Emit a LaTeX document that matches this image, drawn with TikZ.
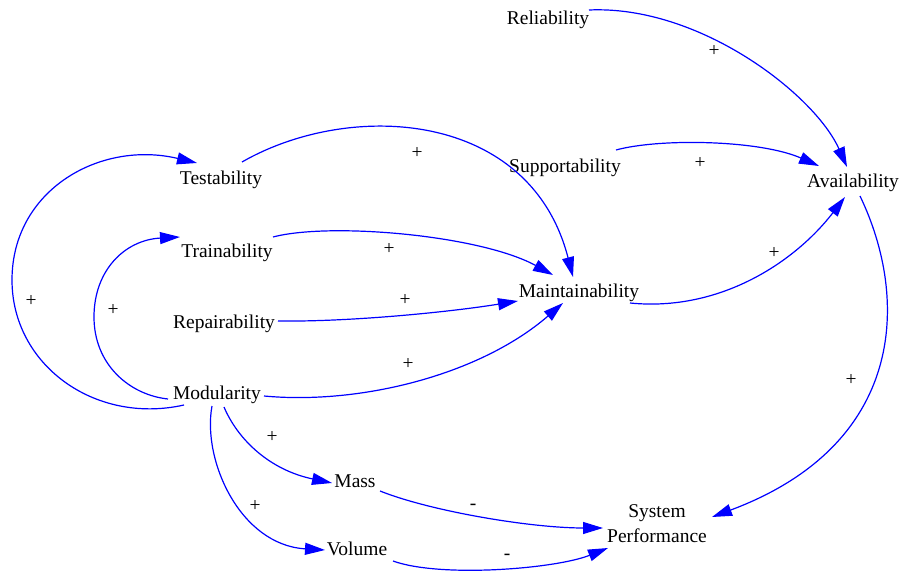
\documentclass[tikz,border=0pt]{standalone}
\usepackage{fontspec}
\setmainfont{Liberation Serif}
\usetikzlibrary{arrows.meta}
\begin{document}
\begin{tikzpicture}[x=1pt,y=-1pt,
  var/.style={inner sep=0pt, anchor=base, font=\fontsize{19.5}{25}\selectfont},
  sign/.style={inner sep=0pt, font=\fontsize{19.5}{25}\selectfont},
  link/.style={draw=blue, line width=1.2pt, -{Triangle[length=20pt,width=12pt]}}]
\useasboundingbox (0,0) rectangle (900,575);

% variables of the causal loop diagram
\node[var] (rel)   at (548,25)  {Reliability};
\node[var] (test)  at (221,185) {Testability};
\node[var] (sup)   at (565,173) {Supportability};
\node[var] (av)    at (853,188) {Availability};
\node[var] (train) at (227,257) {Trainability};
\node[var] (maint) at (579,297) {Maintainability};
\node[var] (rep)   at (224,328) {Repairability};
\node[var] (mod)   at (217,399) {Modularity};
\node[var] (mass)  at (355,487) {Mass};
\node[var] (vol)   at (357,555) {Volume};
\node[var, anchor=center, align=center] (sp) at (657,524) {System\\Performance};

% causal links
\draw[link] ([shift={(41,-15)}]rel.base) .. controls (700,5) and (815,95) .. ([shift={(-6,-21)}]av.base);
\draw[link] ([shift={(51,-23)}]sup.base) .. controls (660,138) and (760,140) .. ([shift={(-34,-22)}]av.base);
\draw[link] ([shift={(21,-23)}]test.base) .. controls (350,100) and (530,110) .. ([shift={(-6,-20)}]maint.base);
\draw[link] ([shift={(46,-20)}]train.base) .. controls (330,222) and (480,235) .. ([shift={(-26,-22)}]maint.base);
\draw[link] ([shift={(54,-7)}]rep.base) .. controls (350,322) and (450,312) .. ([shift={(-61,4)}]maint.base);
\draw[link] ([shift={(47,-3)}]mod.base) .. controls (360,405) and (480,375) .. ([shift={(-16,6)}]maint.base);
\draw[link] ([shift={(51,6)}]maint.base) .. controls (720,312) and (795,262) .. ([shift={(-8,9)}]av.base);
\draw[link] ([shift={(7,8)}]av.base) .. controls (910,300) and (905,445) .. ([shift={(55,-7)}]sp.center);
\draw[link] ([shift={(-33,6)}]mod.base) .. controls (95,425) and (12,365) .. (12,280)
  .. controls (12,190) and (100,140) .. ([shift={(-24,-22)}]test.base);
\draw[link] ([shift={(-49,0)}]mod.base) .. controls (130,395) and (94,365) .. (94,317)
  .. controls (94,270) and (125,240) .. ([shift={(-47,-20)}]train.base);
\draw[link] ([shift={(7,8)}]mod.base) .. controls (238,440) and (270,470) .. ([shift={(-23,-4)}]mass.base);
\draw[link] ([shift={(-5,7)}]mod.base) .. controls (202,460) and (240,545) .. ([shift={(-32,-5)}]vol.base);
\draw[link] ([shift={(25,4)}]mass.base) .. controls (430,511) and (530,528) .. ([shift={(-54,4)}]sp.center);
\draw[link] ([shift={(36,6)}]vol.base) .. controls (440,578) and (555,569) .. ([shift={(-49,24)}]sp.center);

% polarity of each link
\node[sign] (s1)  at (714,51)  {+};
\node[sign] (s2)  at (700,163) {+};
\node[sign] (s3)  at (417,153) {+};
\node[sign] (s4)  at (389,249) {+};
\node[sign] (s5)  at (405,300) {+};
\node[sign] (s6)  at (408,364) {+};
\node[sign] (s7)  at (774,253) {+};
\node[sign] (s8)  at (851,380) {+};
\node[sign] (s9)  at (31,301)  {+};
\node[sign] (s10) at (113,310) {+};
\node[sign] (s11) at (272,437) {+};
\node[sign] (s12) at (255,506) {+};
\node[sign] (s13) at (473,507) {-};
\node[sign] (s14) at (507,557) {-};
\end{tikzpicture}
\end{document}
